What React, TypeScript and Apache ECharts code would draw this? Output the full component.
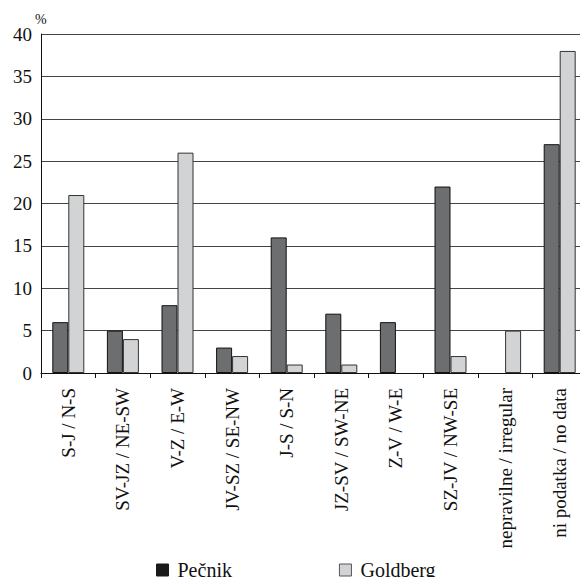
import React, { useEffect, useRef } from "react";
import * as echarts from "echarts";

const categories = [
  "S-J / N-S",
  "SV-JZ / NE-SW",
  "V-Z / E-W",
  "JV-SZ / SE-NW",
  "J-S / S-N",
  "JZ-SV / SW-NE",
  "Z-V / W-E",
  "SZ-JV / NW-SE",
  "nepravilne / irregular",
  "ni podatka / no data",
];
const pecnik = [6, 5, 8, 3, 16, 7, 6, 22, 0, 27];
const goldberg = [21, 4, 26, 2, 1, 1, 0, 2, 5, 38];
const seriesNames = ["Pečnik", "Goldberg"];

const FONT = "Liberation Serif";
const nz = (arr: number[]) => arr.map((v) => (v === 0 ? null : v));

export default function App() {
  const ref = useRef<HTMLDivElement>(null);
  useEffect(() => {
    if (!ref.current) return;
    const chart = echarts.init(ref.current, undefined, { renderer: "svg" });
    chart.setOption({
      animation: false,
      backgroundColor: "#ffffff",
      textStyle: { fontFamily: FONT },
      grid: { left: 41, right: 1, top: 34, bottom: 212, containLabel: false },
      legend: {
        bottom: 0,
        left: 151,
        itemWidth: 12,
        itemHeight: 12,
        itemGap: 107,
        icon: "rect",
        textStyle: { fontFamily: FONT, fontSize: 20, color: "#111", padding: [0, 0, 0, 4] },
        data: [
          { name: seriesNames[0], itemStyle: { color: "#1a1a1a", borderColor: "#1a1a1a", borderWidth: 1 } },
          { name: seriesNames[1], itemStyle: { color: "#d2d3d5", borderColor: "#555", borderWidth: 1 } },
        ],
      },
      graphic: [
        {
          type: "text",
          left: 35,
          top: 12,
          style: { text: "%", fontFamily: FONT, fontSize: 14, fill: "#111" },
        },
      ],
      xAxis: {
        type: "category",
        data: categories,
        axisLine: { lineStyle: { color: "#111", width: 1 } },
        axisTick: { show: true, alignWithLabel: false, length: 5, lineStyle: { color: "#111" } },
        axisLabel: {
          rotate: 90,
          interval: 0,
          margin: 15,
          fontFamily: FONT,
          fontSize: 19,
          color: "#111",
        },
      },
      yAxis: {
        type: "value",
        min: 0,
        max: 40,
        interval: 5,
        axisLine: { show: true, lineStyle: { color: "#111", width: 1 } },
        axisTick: { show: false },
        axisLabel: { fontFamily: FONT, fontSize: 19, color: "#111", margin: 9 },
        splitLine: { lineStyle: { color: "#444", width: 1.2 } },
      },
      series: [
        {
          name: seriesNames[0],
          type: "bar",
          data: nz(pecnik),
          barWidth: 16,
          barGap: "0%",
          itemStyle: { color: "#6d6e70", borderColor: "#111", borderWidth: 1 },
        },
        {
          name: seriesNames[1],
          type: "bar",
          data: nz(goldberg),
          barWidth: 16,
          barGap: "0%",
          itemStyle: { color: "#d2d3d5", borderColor: "#333", borderWidth: 1 },
        },
      ],
    });
    return () => chart.dispose();
  }, []);
  return <div ref={ref} style={{ width: 588, height: 585, margin: -8 }} />;
}
